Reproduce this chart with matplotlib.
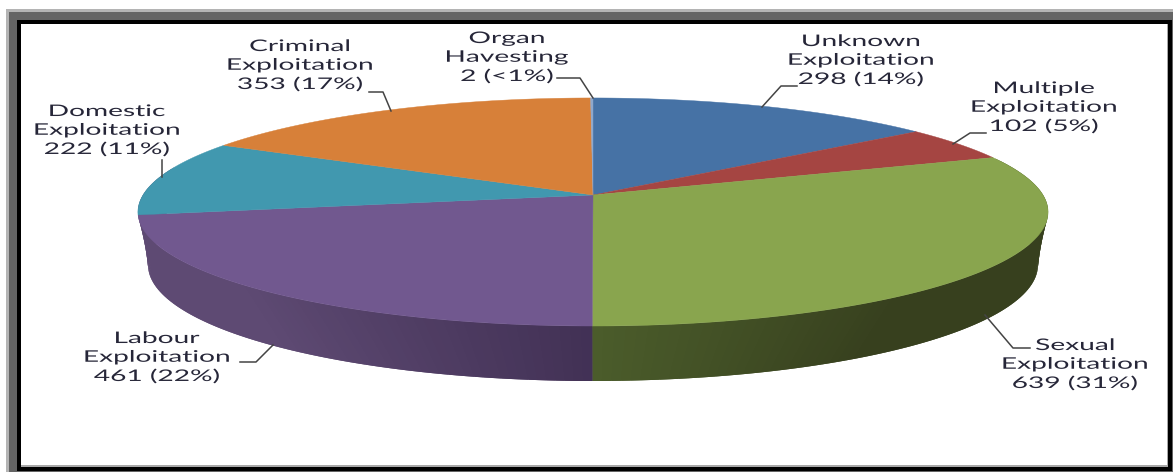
import matplotlib
matplotlib.use("Agg")
import matplotlib.pyplot as plt
import matplotlib.patheffects as pe
from matplotlib.patches import Rectangle, Polygon
from matplotlib.transforms import Affine2D
import numpy as np

# clockwise from 12 o'clock
categories = ["Unknown\nExploitation", "Multiple\nExploitation", "Sexual\nExploitation",
              "Labour\nExploitation", "Domestic\nExploitation", "Criminal\nExploitation",
              "Organ\nHavesting"]
values = [298, 102, 639, 461, 222, 353, 2]
percents = ["14%", "5%", "31%", "22%", "11%", "17%", "<1%"]
colors = ["#4672A5", "#A54542", "#89A54E", "#71588F", "#4198AF", "#D78039", "#8FA8CC"]


class StretchX(pe.AbstractPathEffect):
    """Original text is stretched sideways, widen each line about its centre."""

    def __init__(self, factor):
        super().__init__()
        self.factor = factor

    def draw_path(self, renderer, gc, tpath, affine, rgbFace=None):
        ext = tpath.transformed(affine).get_extents()
        cx = (ext.x0 + ext.x1) / 2
        stretched = affine + Affine2D().translate(-cx, 0).scale(self.factor, 1).translate(cx, 0)
        renderer.draw_path(gc, tpath, stretched, rgbFace)


def top_rim(theta):
    # tilted disc: the hub is not at the middle of the ellipse
    s, c = np.sin(theta), np.cos(theta)
    w = 1 + 0.149 * c
    return 593 + 450 * s / w, 195 - 111.5 * c / w


def bottom_rim(theta):
    return 593 + 445 * np.sin(theta), 265 - 116 * np.cos(theta)


def wall_color(theta, near, far, reach):
    # side wall shading, depends on distance from the front of the pie
    t = min(abs(np.sin(theta)) / reach, 1.0)
    return tuple((1 - t) * np.array(matplotlib.colors.to_rgb(near))
                 + t * np.array(matplotlib.colors.to_rgb(far)))


def main():
    fig = plt.figure(figsize=(11.73, 4.72), dpi=100)
    ax = fig.add_axes([0, 0, 1, 1])
    ax.set_xlim(0, 1173)
    ax.set_ylim(472, 0)
    ax.axis("off")

    # Frame
    ax.add_patch(Rectangle((6, 9), 1167, 463, fc="#B4B4B4", ec="none"))
    ax.add_patch(Rectangle((9, 12), 1164, 460, fc="#646464", ec="none"))
    ax.add_patch(Rectangle((17, 20), 1155, 451, fc="black", ec="none"))
    ax.add_patch(Rectangle((21, 24), 1147, 443, fc="#A8A8A8", ec="none"))
    ax.add_patch(Rectangle((21, 24), 1145.5, 441, fc="white", ec="none"))

    edges = 2 * np.pi * np.cumsum([0] + values) / sum(values)

    # Side walls: both painted from the back to the front of the pie.
    # Each strip runs over the next one so no seams show.
    walls = [
        (np.radians(70), edges[3], "#37401E", "#4B5C2B", 0.6),
        (np.radians(285), edges[3], "#5E4A73", "#423155", 0.7),
    ]
    for start, stop, far, near, reach in walls:
        th = np.linspace(start, stop, 90)
        for i in range(len(th) - 1):
            a, b = th[i], th[min(i + 2, len(th) - 1)]
            xa, ya = top_rim(a)
            xb, yb = top_rim(b)
            xc, yc = bottom_rim(b)
            xd, yd = bottom_rim(a)
            col = wall_color((th[i] + th[i + 1]) / 2, near, far, reach)
            ax.add_patch(Polygon([(xa, ya), (xb, yb), (xc, yc), (xd, yd)],
                                 fc=col, ec="none", zorder=2))

    # Top face
    for i, col in enumerate(colors):
        th = np.linspace(edges[i], edges[i + 1], 200)
        x, y = top_rim(th)
        pts = np.column_stack([np.r_[593, x], np.r_[195, y]])
        ax.add_patch(Polygon(pts, fc=col, ec=col, lw=0.3, zorder=3))

    # Leader lines
    leaders = [
        ([797, 781, 762], [86, 86, 107]),
        ([986, 970, 953], [133, 133, 144]),
        ([1030, 1013, 985], [348, 348, 315]),
        ([240, 256, 273], [362, 362, 345]),
        ([162, 162], [160, 177]),
        ([369, 383, 391], [92, 92, 111]),
        ([557, 580, 593], [78, 78, 98]),
    ]
    for lx, ly in leaders:
        ax.plot(lx, ly, color="#444444", lw=1.1, zorder=4)

    # Labels, same order as the values
    label_xy = [(861, 61), (1044, 108), (1075, 365), (157, 358), (107, 131), (300, 66), (507, 58)]
    for name, val, pct, (lx, ly) in zip(categories, values, percents, label_xy):
        ax.text(lx, ly, f"{name}\n{val} ({pct})", ha="center", va="center",
                fontsize=11.5, family="Lato", color="#262638", linespacing=1.43,
                zorder=5, path_effects=[StretchX(1.76)])

    fig.savefig("out.png", dpi=100)
    plt.close(fig)


if __name__ == "__main__":
    main()
